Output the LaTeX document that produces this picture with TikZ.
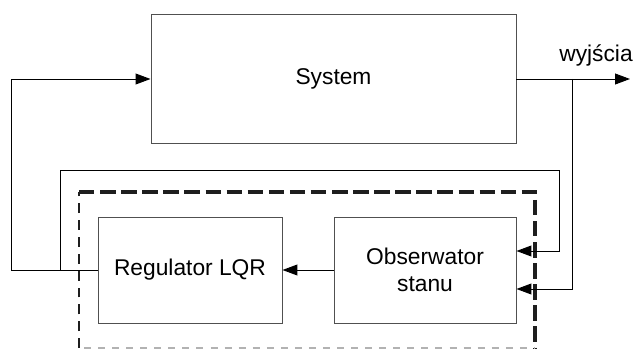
\documentclass[tikz,border=0pt]{standalone}
\usepackage{fontspec}
\setmainfont{Liberation Sans}
\usetikzlibrary{arrows.meta,positioning,calc}
\definecolor{boxcolor}{RGB}{80,80,80}
\definecolor{dashcolor}{RGB}{30,30,30}

\begin{document}
\begin{tikzpicture}[
  >={Triangle[length=0.37cm,width=0.27cm]},
  block/.style={draw=boxcolor, line width=0.7pt, align=center,
    font=\fontsize{16.2}{19.5}\selectfont, inner sep=0pt},
  wire/.style={line width=0.7pt}
]
\useasboundingbox (0,0) rectangle (15.9,8.725);

% ---- Blocks ----
\node[block, minimum width=9.125cm, minimum height=3.2cm] (sys) at (8.3375,6.75) {System};
\node[block, minimum width=4.6cm, minimum height=2.65cm] (reg) at (4.75,1.975) {Regulator LQR};
\node[block, minimum width=4.55cm, minimum height=2.65cm] (obs) at (10.625,1.975) {Obserwator\\stanu};

% ---- Controller frame (dashed) ----
\draw[dashcolor, line width=2.6pt, dash pattern=on 11pt off 4pt] (1.975,3.925) -- (13.375,3.925) -- (13.375,0.025);
\draw[dashcolor, line width=1.5pt, dash pattern=on 7pt off 5pt] (1.975,0.025) -- (1.975,3.925);
\draw[gray!60, line width=0.8pt, dash pattern=on 5pt off 5pt] (2.1,0.025) -- (13.375,0.025);

% ---- Output ----
\coordinate (out) at (15.75,6.75);
\coordinate (tap) at (14.3,6.75);
\draw[wire, ->] (sys.east) -- (out);
\node[font=\fontsize{16.2}{19.5}\selectfont, anchor=base] (lbl) at (14.9,7.175) {wyjścia};
\draw[wire, ->] (tap) |- ([yshift=-0.475cm]obs.east);

% ---- Feedback paths ----
\draw[wire, ->] (obs.west) -- (reg.east);
\draw[wire, ->] (reg.west) -- ++(-2.15,0) |- (sys.west);
\coordinate (split) at (1.5,1.975);
\coordinate (corner) at (13.975,4.475);
\draw[wire, ->] (split) |- (corner) |- ([yshift=0.475cm]obs.east);

\end{tikzpicture}
\end{document}
